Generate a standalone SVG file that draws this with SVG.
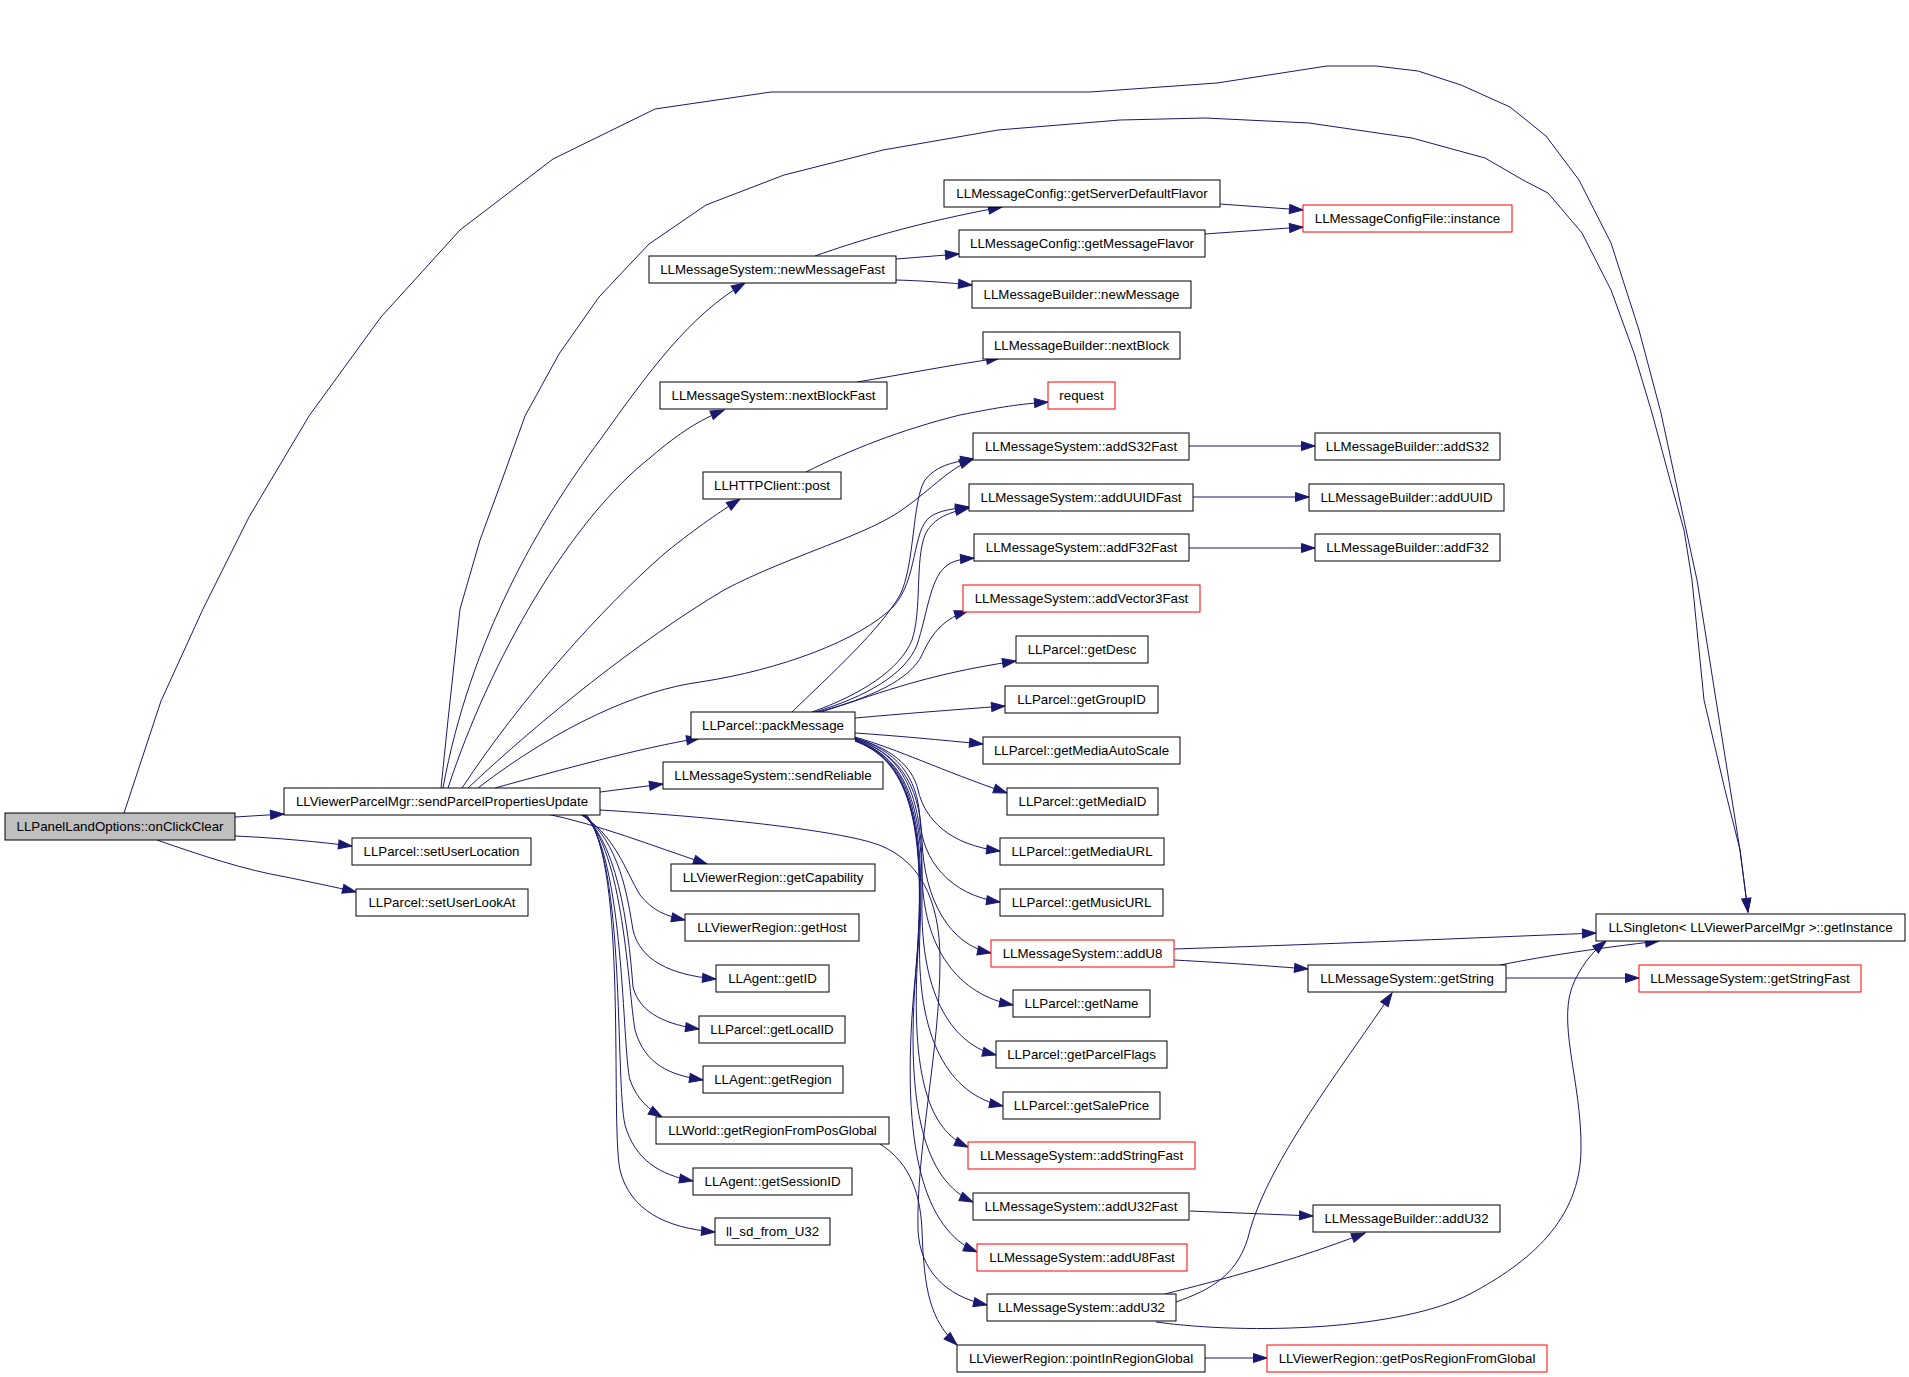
<svg xmlns="http://www.w3.org/2000/svg" width="1909" height="1377" viewBox="0 0 1909 1377">
<style>
.n rect{fill:#ffffff;stroke:#000000;stroke-width:1}
.n.red rect{stroke:#ff0000}
.n.root rect{fill:#bfbfbf}
.n text{font-family:"Liberation Sans",Arial,Helvetica,sans-serif;font-size:13.3px;text-anchor:middle;fill:#000000}
.e path{fill:none;stroke:#191970;stroke-width:1;marker-end:url(#ah)}
</style>
<defs>
<marker id="ah" markerWidth="15" markerHeight="10" refX="13.5" refY="4.5" orient="auto" markerUnits="userSpaceOnUse" overflow="visible">
<path d="M0,0 L13.5,4.5 L0,9 z" fill="#191970" stroke="#191970" stroke-width="1"/>
</marker>
</defs>
<rect x="0" y="0" width="1909" height="1377" fill="#ffffff"/>
<g id="edges" class="e">
<path d="M124,813 L161,701 L203,609 L249,517 L309,416 L381,317 L460,230 L553,159 L655,109 L771,92 L1090,92 L1217,83 L1327,66 L1376,66 L1418,71 L1461,85 L1510,107 L1546,136 L1579,180 L1611,243 L1639,330 L1661,413 L1679,497 L1697,580 L1716,700 L1732,800 L1740,850 L1748,912"/>
<path d="M441,788 L448,720 L460,609 L480,540 L502,480 L525,416 L559,354 L599,297 L649,244 L706,205 L784,175 L883,150 L998,130 L1120,120 L1205,118 L1309,123 L1412,138 L1485,158 L1523,180 L1548,193 L1582,233 L1611,290 L1634,353 L1652,413 L1670,480 L1684,530 L1692,580 L1704,700 L1725,790 L1740,850 L1748,912"/>
<path d="M235,817 L284,814"/>
<path d="M235,836 C280,838 320,842 352,846"/>
<path d="M157,840 C200,855 245,870 286,877 C310,882 335,887 356,892"/>
<path d="M443,788 C470,640 540,520 600,440 C650,370 690,315 745,283"/>
<path d="M448,788 C490,660 570,520 651,457 C680,432 700,420 724,410"/>
<path d="M462,788 C520,700 600,610 665,553 C700,525 720,512 740,499"/>
<path d="M468,788 C540,720 640,640 724,590 C790,555 870,535 906,507 C930,490 950,468 973,459"/>
<path d="M478,788 C560,725 640,690 700,682 C780,670 860,640 893,607 C918,580 912,530 930,517 C940,510 952,509 969,507"/>
<path d="M495,788 C560,770 640,748 700,738"/>
<path d="M600,792 L663,784"/>
<path d="M600,810 C700,816 820,828 870,842 C920,856 940,900 940,960 C940,1050 916,1150 918,1230 C920,1270 945,1296 987,1305"/>
<path d="M547,814 C600,825 650,845 707,864"/>
<path d="M580,814 C615,835 625,870 640,895 C652,910 665,916 685,920"/>
<path d="M581,814 C620,840 628,900 633,930 C640,960 670,975 716,979"/>
<path d="M582,814 C622,845 630,950 633,987 C640,1015 670,1025 699,1029"/>
<path d="M583,814 C624,850 628,990 635,1030 C645,1065 670,1075 703,1080"/>
<path d="M584,814 C625,855 622,1050 630,1080 C637,1100 650,1110 662,1117"/>
<path d="M585,814 C626,860 615,1080 625,1125 C635,1160 660,1175 693,1181"/>
<path d="M586,814 C628,865 610,1120 620,1170 C630,1210 665,1228 715,1232"/>
<path d="M815,256 C860,240 920,222 1002,207"/>
<path d="M896,259 L959,254"/>
<path d="M896,280 C930,281 950,283 972,285"/>
<path d="M1220,204 L1303,210"/>
<path d="M1205,234 L1303,227"/>
<path d="M857,382 C900,375 950,365 1000,358"/>
<path d="M806,472 C850,450 900,430 960,415 C1000,407 1020,404 1048,402"/>
<path d="M1189,446 L1315,446"/>
<path d="M1193,497 L1309,497"/>
<path d="M1189,548 L1315,548"/>
<path d="M792,712 C830,675 880,630 900,595 C915,565 912,500 925,480 C935,467 950,462 974,459"/>
<path d="M812,712 C860,695 900,670 912,640 C922,610 915,560 925,535 C932,520 945,513 969,508"/>
<path d="M815,712 C865,697 905,675 917,645 C927,615 930,580 945,567 C952,561 960,559 974,558"/>
<path d="M818,712 C870,698 910,680 922,655 C932,632 945,618 968,611"/>
<path d="M821,712 C870,697 920,675 1016,661"/>
<path d="M855,718 C900,714 950,710 1005,706"/>
<path d="M855,733 C900,736 940,740 983,744"/>
<path d="M855,737 C900,750 940,770 1007,793"/>
<path d="M855,738 C890,748 912,765 918,790 C925,820 950,845 1000,851"/>
<path d="M855,738 C895,750 918,775 920,820 C922,860 950,895 1000,902"/>
<path d="M855,739 C895,752 920,780 922,840 C924,900 950,945 991,953"/>
<path d="M855,739 C897,752 922,785 922,870 C922,950 960,995 1013,1005"/>
<path d="M855,740 C898,755 924,790 922,900 C920,1000 955,1045 996,1055"/>
<path d="M855,740 C900,756 926,795 920,930 C915,1040 950,1095 1003,1106"/>
<path d="M855,740 C900,757 928,800 918,950 C910,1080 930,1130 968,1147"/>
<path d="M855,741 C902,758 930,805 916,970 C905,1110 925,1180 973,1202"/>
<path d="M855,741 C903,759 932,810 914,990 C900,1150 925,1230 977,1252"/>
<path d="M880,1144 C905,1160 920,1185 922,1230 C924,1290 930,1320 957,1345"/>
<path d="M1205,1358 L1267,1358"/>
<path d="M1174,949 C1300,945 1450,939 1596,933"/>
<path d="M1174,960 C1230,963 1270,966 1308,969"/>
<path d="M1500,965 C1550,955 1600,948 1659,941"/>
<path d="M1506,978 L1639,978"/>
<path d="M1176,1302 C1210,1290 1240,1275 1250,1230 C1270,1160 1340,1070 1392,993"/>
<path d="M1165,1294 C1220,1280 1290,1262 1365,1233"/>
<path d="M1190,1211 L1313,1216"/>
<path d="M1156,1322 C1250,1335 1400,1330 1470,1294 C1530,1262 1580,1220 1581,1150 C1582,1080 1555,1020 1575,980 C1585,960 1595,950 1606,941"/>
</g>
<g id="n_onClickClear" class="n root"><rect x="5" y="813" width="230" height="27"/><text x="120" y="831">LLPanelLandOptions::onClickClear</text></g>
<g id="n_sendParcel" class="n"><rect x="284" y="788" width="316" height="27"/><text x="442" y="806">LLViewerParcelMgr::sendParcelPropertiesUpdate</text></g>
<g id="n_setUserLocation" class="n"><rect x="352" y="838" width="179" height="27"/><text x="441.5" y="856">LLParcel::setUserLocation</text></g>
<g id="n_setUserLookAt" class="n"><rect x="356" y="889" width="172" height="27"/><text x="442" y="907">LLParcel::setUserLookAt</text></g>
<g id="n_newMessageFast" class="n"><rect x="649" y="256" width="247" height="27"/><text x="772.5" y="274">LLMessageSystem::newMessageFast</text></g>
<g id="n_getServerDefaultFlavor" class="n"><rect x="944" y="180" width="276" height="27"/><text x="1082" y="198">LLMessageConfig::getServerDefaultFlavor</text></g>
<g id="n_getMessageFlavor" class="n"><rect x="959" y="230" width="246" height="27"/><text x="1082" y="248">LLMessageConfig::getMessageFlavor</text></g>
<g id="n_newMessage" class="n"><rect x="972" y="281" width="219" height="27"/><text x="1081.5" y="299">LLMessageBuilder::newMessage</text></g>
<g id="n_instance" class="n red"><rect x="1303" y="205" width="209" height="27"/><text x="1407.5" y="223">LLMessageConfigFile::instance</text></g>
<g id="n_nextBlock" class="n"><rect x="983" y="332" width="197" height="27"/><text x="1081.5" y="350">LLMessageBuilder::nextBlock</text></g>
<g id="n_nextBlockFast" class="n"><rect x="660" y="382" width="227" height="27"/><text x="773.5" y="400">LLMessageSystem::nextBlockFast</text></g>
<g id="n_request" class="n red"><rect x="1048" y="382" width="67" height="27"/><text x="1081.5" y="400">request</text></g>
<g id="n_post" class="n"><rect x="703" y="472" width="138" height="27"/><text x="772" y="490">LLHTTPClient::post</text></g>
<g id="n_addS32Fast" class="n"><rect x="973" y="433" width="216" height="27"/><text x="1081" y="451">LLMessageSystem::addS32Fast</text></g>
<g id="n_addS32" class="n"><rect x="1315" y="433" width="185" height="27"/><text x="1407.5" y="451">LLMessageBuilder::addS32</text></g>
<g id="n_addUUIDFast" class="n"><rect x="969" y="484" width="224" height="27"/><text x="1081" y="502">LLMessageSystem::addUUIDFast</text></g>
<g id="n_addUUID" class="n"><rect x="1309" y="484" width="195" height="27"/><text x="1406.5" y="502">LLMessageBuilder::addUUID</text></g>
<g id="n_addF32Fast" class="n"><rect x="974" y="534" width="215" height="27"/><text x="1081.5" y="552">LLMessageSystem::addF32Fast</text></g>
<g id="n_addF32" class="n"><rect x="1315" y="534" width="185" height="27"/><text x="1407.5" y="552">LLMessageBuilder::addF32</text></g>
<g id="n_addVector3Fast" class="n red"><rect x="963" y="585" width="237" height="27"/><text x="1081.5" y="603">LLMessageSystem::addVector3Fast</text></g>
<g id="n_getDesc" class="n"><rect x="1016" y="636" width="132" height="27"/><text x="1082" y="654">LLParcel::getDesc</text></g>
<g id="n_getGroupID" class="n"><rect x="1005" y="686" width="153" height="27"/><text x="1081.5" y="704">LLParcel::getGroupID</text></g>
<g id="n_getMediaAutoScale" class="n"><rect x="983" y="737" width="197" height="27"/><text x="1081.5" y="755">LLParcel::getMediaAutoScale</text></g>
<g id="n_getMediaID" class="n"><rect x="1007" y="788" width="151" height="27"/><text x="1082.5" y="806">LLParcel::getMediaID</text></g>
<g id="n_getMediaURL" class="n"><rect x="1000" y="838" width="164" height="27"/><text x="1082" y="856">LLParcel::getMediaURL</text></g>
<g id="n_getMusicURL" class="n"><rect x="1000" y="889" width="163" height="27"/><text x="1081.5" y="907">LLParcel::getMusicURL</text></g>
<g id="n_addU8" class="n red"><rect x="991" y="940" width="183" height="27"/><text x="1082.5" y="958">LLMessageSystem::addU8</text></g>
<g id="n_getName" class="n"><rect x="1013" y="990" width="137" height="27"/><text x="1081.5" y="1008">LLParcel::getName</text></g>
<g id="n_getParcelFlags" class="n"><rect x="996" y="1041" width="171" height="27"/><text x="1081.5" y="1059">LLParcel::getParcelFlags</text></g>
<g id="n_getSalePrice" class="n"><rect x="1003" y="1092" width="157" height="27"/><text x="1081.5" y="1110">LLParcel::getSalePrice</text></g>
<g id="n_addStringFast" class="n red"><rect x="968" y="1142" width="227" height="27"/><text x="1081.5" y="1160">LLMessageSystem::addStringFast</text></g>
<g id="n_addU32Fast" class="n"><rect x="973" y="1193" width="216" height="27"/><text x="1081" y="1211">LLMessageSystem::addU32Fast</text></g>
<g id="n_addU32Builder" class="n"><rect x="1313" y="1205" width="187" height="27"/><text x="1406.5" y="1223">LLMessageBuilder::addU32</text></g>
<g id="n_addU8Fast" class="n red"><rect x="977" y="1244" width="210" height="27"/><text x="1082" y="1262">LLMessageSystem::addU8Fast</text></g>
<g id="n_addU32" class="n"><rect x="987" y="1294" width="189" height="27"/><text x="1081.5" y="1312">LLMessageSystem::addU32</text></g>
<g id="n_pointInRegionGlobal" class="n"><rect x="957" y="1345" width="248" height="27"/><text x="1081" y="1363">LLViewerRegion::pointInRegionGlobal</text></g>
<g id="n_getPosRegionFromGlobal" class="n red"><rect x="1267" y="1345" width="280" height="27"/><text x="1407" y="1363">LLViewerRegion::getPosRegionFromGlobal</text></g>
<g id="n_packMessage" class="n"><rect x="691" y="712" width="164" height="27"/><text x="773" y="730">LLParcel::packMessage</text></g>
<g id="n_sendReliable" class="n"><rect x="663" y="762" width="220" height="27"/><text x="773" y="780">LLMessageSystem::sendReliable</text></g>
<g id="n_getCapability" class="n"><rect x="671" y="864" width="204" height="27"/><text x="773" y="882">LLViewerRegion::getCapability</text></g>
<g id="n_getHost" class="n"><rect x="685" y="914" width="174" height="27"/><text x="772" y="932">LLViewerRegion::getHost</text></g>
<g id="n_getID" class="n"><rect x="716" y="965" width="113" height="27"/><text x="772.5" y="983">LLAgent::getID</text></g>
<g id="n_getLocalID" class="n"><rect x="699" y="1016" width="146" height="27"/><text x="772" y="1034">LLParcel::getLocalID</text></g>
<g id="n_getRegion" class="n"><rect x="703" y="1066" width="140" height="27"/><text x="773" y="1084">LLAgent::getRegion</text></g>
<g id="n_getRegionFromPosGlobal" class="n"><rect x="656" y="1117" width="233" height="27"/><text x="772.5" y="1135">LLWorld::getRegionFromPosGlobal</text></g>
<g id="n_getSessionID" class="n"><rect x="693" y="1168" width="159" height="27"/><text x="772.5" y="1186">LLAgent::getSessionID</text></g>
<g id="n_ll_sd_from_U32" class="n"><rect x="715" y="1218" width="115" height="27"/><text x="772.5" y="1236">ll_sd_from_U32</text></g>
<g id="n_getInstance" class="n"><rect x="1596" y="914" width="309" height="27"/><text x="1750.5" y="932">LLSingleton&lt; LLViewerParcelMgr &gt;::getInstance</text></g>
<g id="n_getString" class="n"><rect x="1308" y="965" width="198" height="27"/><text x="1407" y="983">LLMessageSystem::getString</text></g>
<g id="n_getStringFast" class="n red"><rect x="1639" y="965" width="222" height="27"/><text x="1750" y="983">LLMessageSystem::getStringFast</text></g>
</svg>
